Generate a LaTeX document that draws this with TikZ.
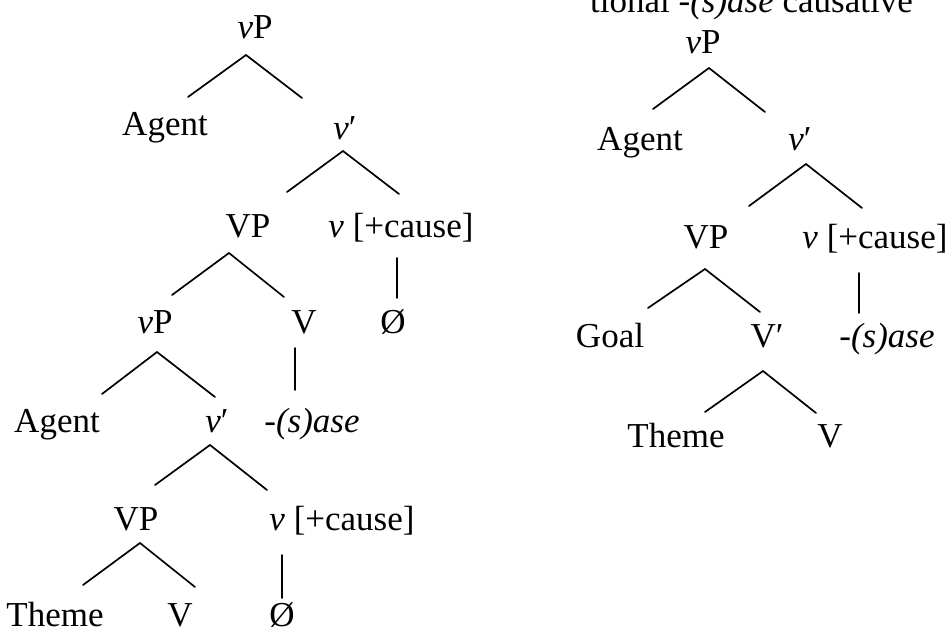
\documentclass[tikz,border=0pt]{standalone}
\usepackage{fontspec}
\setmainfont{Liberation Serif}
\newcommand\tbranch[6]{\draw[branch] ([shift={(#2,#3)}]#1.base) -- ([shift={(#5,#6)}]#4.base);}
\begin{document}
\begin{tikzpicture}[x=1pt,y=1pt,
  lab/.style={anchor=base,inner sep=0pt,font=\fontsize{35}{40}\selectfont},
  branch/.style={line width=1.7pt,line cap=round}]
\clip (0,0) rectangle (950,-632);
\fill[white] (0,0) rectangle (950,-632);
% heading (cut off at top)
\node[lab,anchor=base east] (head) at (913,-12) {tional \textit{-(s)ase} causative};
% left tree
\node[lab] (LvP) at (255,-38) {\textit{v}P};
\node[lab] (LAg) at (165,-135) {Agent};
\node[lab] (Lvb) at (345,-139) {\textit{v}′};
\node[lab] (LVP) at (248,-237) {VP};
\node[lab] (Lvc) at (401,-237) {\textit{v} [+cause]};
\node[lab] (LvPb) at (155,-333) {\textit{v}P};
\node[lab] (LV) at (304,-333) {V};
\node[lab] (LOa) at (393,-333) {Ø};
\node[lab] (LAgb) at (57,-432) {Agent};
\node[lab] (Lvbb) at (217,-432) {\textit{v}′};
\node[lab] (Lsa) at (312,-432) {\textit{-(s)ase}};
\node[lab] (LVPc) at (136,-530) {VP};
\node[lab] (Lvcb) at (342,-530) {\textit{v} [+cause]};
\node[lab] (LTh) at (55,-626) {Theme};
\node[lab] (LVb) at (180,-626) {V};
\node[lab] (LOb) at (282,-626) {Ø};
\tbranch{LvP}{-9}{-17}{LAg}{23}{38}
\tbranch{LvP}{-9}{-17}{Lvb}{-43}{41}
\tbranch{Lvb}{-2}{-12}{LVP}{39}{45}
\tbranch{Lvb}{-2}{-12}{Lvc}{-2}{43}
\tbranch{LVP}{-19}{-16}{LvPb}{17}{38}
\tbranch{LVP}{-19}{-16}{LV}{-20}{36}
\tbranch{Lvc}{-4}{-21}{LOa}{4}{35}
\tbranch{LvPb}{2}{-19}{LAgb}{45}{38}
\tbranch{LvPb}{2}{-19}{Lvbb}{-2}{35}
\tbranch{LV}{-9}{-15}{Lsa}{-17}{42}
\tbranch{Lvbb}{-7}{-13}{LVPc}{19}{45}
\tbranch{Lvbb}{-7}{-13}{Lvcb}{-75}{40}
\tbranch{LVPc}{4}{-13}{LTh}{28}{41}
\tbranch{LVPc}{4}{-13}{LVb}{15}{39}
\tbranch{Lvcb}{-60}{-25}{LOb}{0}{28}
% right tree
\node[lab] (RvP) at (703,-53) {\textit{v}P};
\node[lab] (RAg) at (640,-150) {Agent};
\node[lab] (Rvb) at (800,-150) {\textit{v}′};
\node[lab] (RVP) at (706,-248) {VP};
\node[lab] (Rvc) at (875,-248) {\textit{v} [+cause]};
\node[lab] (RGo) at (610,-347) {Goal};
\node[lab] (RVb) at (767,-347) {V′};
\node[lab] (Rsa) at (887,-347) {\textit{-(s)ase}};
\node[lab] (RTh) at (676,-447) {Theme};
\node[lab] (RV) at (830,-447) {V};
\tbranch{RvP}{6}{-15}{RAg}{13}{41}
\tbranch{RvP}{6}{-15}{Rvb}{-35}{38}
\tbranch{Rvb}{6}{-14}{RVP}{43}{42}
\tbranch{Rvb}{6}{-14}{Rvc}{-13}{40}
\tbranch{RVP}{-1}{-21}{RGo}{38}{39}
\tbranch{RVP}{-1}{-21}{RVb}{-7}{35}
\tbranch{Rvc}{-16}{-25}{Rsa}{-28}{34}
\tbranch{RVb}{-4}{-24}{RTh}{29}{35}
\tbranch{RVb}{-4}{-24}{RV}{-14}{34}
\end{tikzpicture}
\end{document}
